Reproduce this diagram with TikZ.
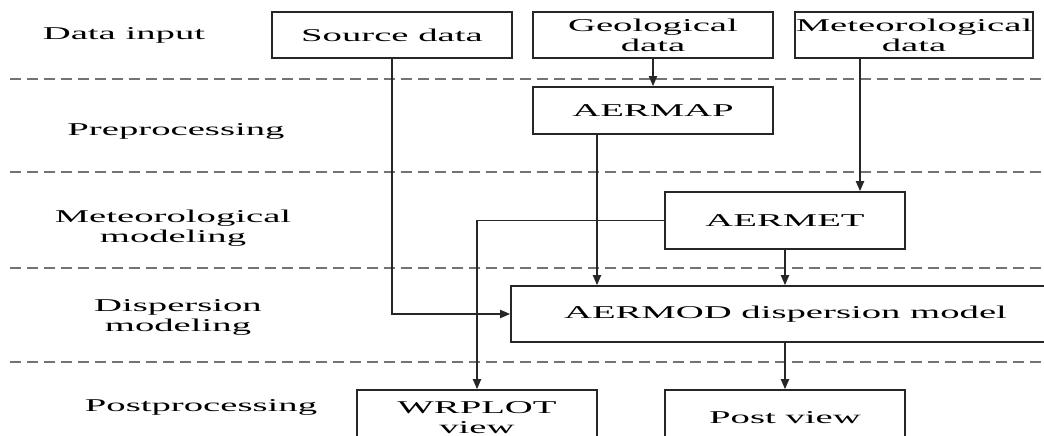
\documentclass[tikz,border=0pt]{standalone}
\usepackage{fontspec}
\setmainfont{Liberation Serif}[FakeStretch=2.15]
\usetikzlibrary{arrows.meta,positioning,calc}

\tikzset{
	block/.style={draw=black!85, line width=1.6pt, minimum width=240pt, minimum height=46pt, align=center, inner sep=0pt},
	stage/.style={align=center, inner sep=0pt},
	flow/.style={draw=black!85, line width=1.8pt, -{Triangle[length=10pt,width=8pt]}},
	lane/.style={draw=black!55, line width=1.6pt, dash pattern=on 11pt off 6pt}
}

\begin{document}
\begin{tikzpicture}[x=1pt, y=-1pt, font=\fontsize{18}{20}\selectfont]
	\clip (0, 0) rectangle (1044, 436);
	\fill[white] (0, 0) rectangle (1044, 436);

	% swim lanes
	\foreach \y in { 79, 172, 268, 362 }
		\draw[lane] (10, \y) -- (1044, \y);

	\node[stage] (lin) at (124, 35) {Data input};
	\node[stage] (lpre) at (176, 131) {Preprocessing};
	\node[stage] (lmet) at (173, 228) {Meteorological\\modeling};
	\node[stage] (ldis) at (178, 317) {Dispersion\\modeling};
	\node[stage] (lpost) at (201, 407) {Postprocessing};

	% boxes
	\node[block] (src) at (392, 35) {Source data};
	\node[block] (geo) at (653, 35) {Geological\\data};
	\node[block, minimum width=238pt] (met) at (914, 35) {Meteorological\\data};
	\node[block, minimum height=47pt] (aermap) at (653, 110.5) {AERMAP};
	\node[block, minimum height=57pt] (aermet) at (785, 220.5) {AERMET};
	\node[block, minimum width=549pt, minimum height=56pt] (aermod) at (785.5, 314) {AERMOD dispersion model};
	\node[block, minimum height=56pt] (wrplot) at (477, 418) {WRPLOT\\view};
	\node[block, minimum height=56pt] (post) at (785, 418) {Post view};

	% connectors
	\coordinate (mapout) at ($(aermap.south)+(-56, 0)$);
	\coordinate (metout) at ($(met.south)+(-54, 0)$);
	\draw[flow] (src.south) |- (aermod.west);
	\draw[flow] (geo.south) -- (aermap.north);
	\draw[flow] (mapout) -- (mapout |- aermod.north);
	\draw[flow] (metout) -- (metout |- aermet.north);
	\draw[flow] (aermet.west) -| (wrplot.north);
	\draw[flow] (aermet.south) -- (aermod.north -| aermet.south);
	\draw[flow] (aermod.south -| post.north) -- (post.north);
\end{tikzpicture}
\end{document}
